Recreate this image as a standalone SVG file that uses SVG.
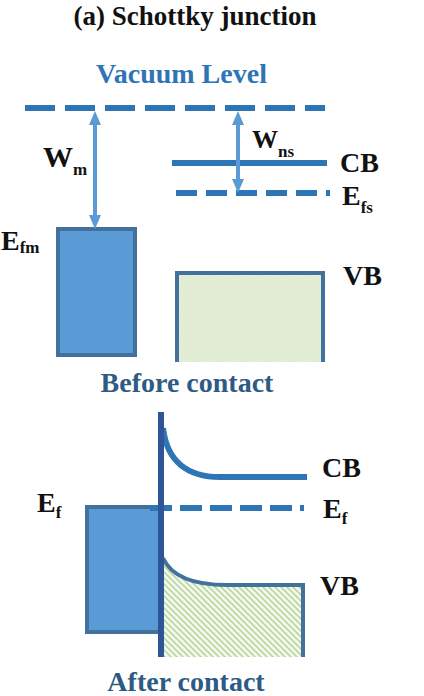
<svg xmlns="http://www.w3.org/2000/svg" width="424" height="696" viewBox="0 0 424 696">
<style>
.t{font-family:"Liberation Serif","Times New Roman",serif;font-weight:bold;fill:#111}
.big{font-size:28px}
.sub{font-size:17px}
.blue{fill:#2e75b6}
.dk{fill:#2e5b85}
.metal{fill:#5b9bd5;stroke:#41719c;stroke-width:4}
.lvl{stroke:#2e75b6;stroke-width:6;fill:none}
.arr{stroke:#5b9bd5;stroke-width:4}
.ah{fill:#5b9bd5}
</style>
<defs>
<pattern id="hatch" patternUnits="userSpaceOnUse" width="6" height="6">
<rect width="6" height="6" fill="#f5f9f0"/>
<path d="M-1,-1 L7,7 M-4,2 L2,8 M2,-4 L8,2" stroke="#b9d89d" stroke-width="1.6"/>
</pattern>
<pattern id="hatchFine" patternUnits="userSpaceOnUse" width="3" height="3">
<rect width="3" height="3" fill="#e6f0da"/>
<path d="M-1,-1 L4,4 M-2,1 L1,4 M1,-2 L4,1" stroke="#d3e5c1" stroke-width="0.8"/>
</pattern>
</defs>

<text class="t" font-size="27" x="195" y="25" text-anchor="middle">(a) Schottky junction</text>

<g id="before">
<g id="vacuum-level">
<text class="t big blue" x="181.5" y="83" text-anchor="middle">Vacuum Level</text>
<line class="lvl" x1="25" y1="108" x2="325" y2="108" stroke-dasharray="30 10"/>
</g>
<g id="metal-before">
<rect class="metal" x="58" y="229" width="77" height="126"/>
<text class="t big" x="1" y="250">E<tspan class="sub" dy="3">fm</tspan></text>
</g>
<g id="cb-before">
<line class="lvl" x1="172" y1="163" x2="327" y2="163"/>
<text class="t big" x="340" y="172">CB</text>
</g>
<g id="efs">
<line class="lvl" x1="176" y1="193" x2="330" y2="193" stroke-dasharray="21 9"/>
<text class="t big" x="342" y="205">E<tspan class="sub" dy="8">fs</tspan></text>
</g>
<g id="vb-before">
<path d="M177,362 V273 H323 V362 Z" fill="url(#hatchFine)"/>
<path d="M177,362 V273 H323 V362" fill="none" stroke="#41719c" stroke-width="4"/>
<text class="t big" x="343" y="285">VB</text>
</g>
<text class="t big dk" x="187" y="392" text-anchor="middle">Before contact</text>
</g>

<g id="connectors">
<g id="wm-arrow">
<line class="arr" x1="95" y1="122" x2="95" y2="216"/>
<polygon class="ah" points="95,111 89,125 101,125"/>
<polygon class="ah" points="95,229 89,215 101,215"/>
</g>
<g id="wns-arrow">
<line class="arr" x1="238" y1="124" x2="238" y2="180"/>
<polygon class="ah" points="238,111 232,125 244,125"/>
<polygon class="ah" points="238,193 232,179 244,179"/>
</g>
</g>
<text class="t" x="43" y="167" font-size="30">W<tspan class="sub" dy="8">m</tspan></text>
<text class="t" x="252" y="148" font-size="26">W<tspan class="sub" dy="9">ns</tspan></text>

<g id="after">
<g id="vb-after">
<path d="M163,558 C172,578 195,585 227,585 H303 V657 H163 Z" fill="url(#hatch)"/>
<path d="M163,558 C172,578 195,585 227,585 H303 V657" fill="none" stroke="#41719c" stroke-width="4"/>
<text class="t big" x="320" y="595">VB</text>
</g>
<g id="metal-after">
<rect class="metal" x="87" y="507" width="73" height="125"/>
<text class="t big" x="37" y="512">E<tspan class="sub" dy="6">f</tspan></text>
</g>
<g id="ef-after">
<line class="lvl" x1="150" y1="508" x2="304" y2="508" stroke-dasharray="22 8"/>
<text class="t big" x="323" y="518">E<tspan class="sub" dy="6">f</tspan></text>
</g>
<g id="cb-after">
<path class="lvl" d="M163,428 C167,462 188,477 220,477 H307"/>
<text class="t big" x="322" y="477">CB</text>
</g>
<line id="interface" x1="161" y1="412" x2="161" y2="657" stroke="#2f5597" stroke-width="6"/>
<text class="t big dk" x="186" y="691" text-anchor="middle">After contact</text>
</g>
</svg>
